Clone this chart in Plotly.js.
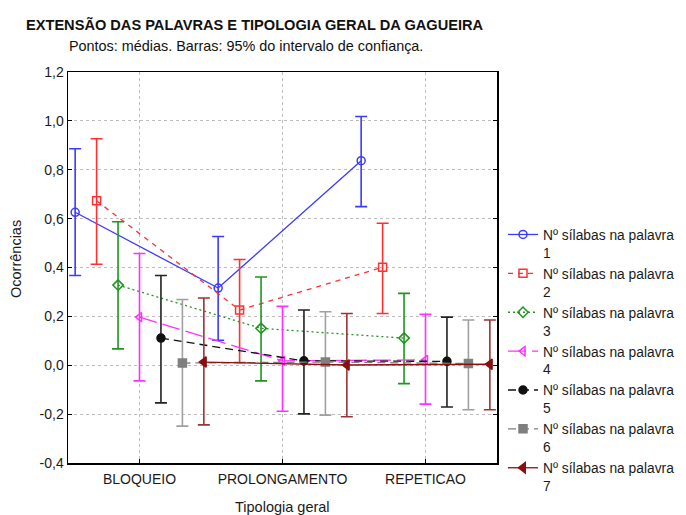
<!DOCTYPE html>
<html><head><meta charset="utf-8">
<script src="https://cdn.plot.ly/plotly-3.0.1.min.js"></script>
<style>html,body{margin:0;padding:0;background:#fff}#chart{width:686px;height:515px}</style>
</head><body><div id="chart"></div>
<script>
// ---- data ----
var categories = ['BLOQUEIO', 'PROLONGAMENTO', 'REPETICAO'];
var seriesNames = ['Nº sílabas na palavra<br>1','Nº sílabas na palavra<br>2','Nº sílabas na palavra<br>3',
  'Nº sílabas na palavra<br>4','Nº sílabas na palavra<br>5','Nº sílabas na palavra<br>6','Nº sílabas na palavra<br>7'];
var mean1 = [0.626, 0.316, 0.837], up1 = [0.886, 0.527, 1.018], lo1 = [0.367, 0.102, 0.649];
var mean2 = [0.673, 0.226, 0.401], up2 = [0.927, 0.433, 0.581], lo2 = [0.413, 0.011, 0.212];
var mean3 = [0.328, 0.151, 0.111], up3 = [0.587, 0.361, 0.294], lo3 = [0.067, -0.064, -0.075];
var mean4 = [0.197, 0.018, 0.022], up4 = [0.457, 0.241, 0.208], lo4 = [-0.064, -0.188, -0.159];
var mean5 = [0.111, 0.018, 0.016], up5 = [0.367, 0.226, 0.197], lo5 = [-0.154, -0.199, -0.171];
var mean6 = [0.009, 0.013, 0.007], up6 = [0.269, 0.219, 0.185], lo6 = [-0.249, -0.204, -0.182];
var mean7 = [0.013, 0.001, 0.004], up7 = [0.275, 0.212, 0.185], lo7 = [-0.244, -0.211, -0.182];
var yTickVals = [-0.4, -0.2, 0, 0.2, 0.4, 0.6, 0.8, 1.0, 1.2];
var yTickLabels = ['-0,4', '-0,2', '0,0', '0,2', '0,4', '0,6', '0,8', '1,0', '1,2'];

// ---- styles ----
var FONT = '"Liberation Sans", Arial, sans-serif';
var styles = [
  {color:'#3b3bff', ecolor:'#3b3bff', dash:'solid', symbol:'circle-open', size:8},
  {color:'#ff3030', ecolor:'#ff3030', dash:'5px,5px', symbol:'square-open', size:8},
  {color:'#1f951f', ecolor:'#1f951f', dash:'2px,3px', symbol:'diamond-open', size:8},
  {color:'#ff30ff', ecolor:'#ff30ff', dash:'18px,6px', symbol:'triangle-left-open', size:8},
  {color:'#111111', ecolor:'#222222', dash:'8px,5px', symbol:'circle', size:8},
  {color:'#7f7f7f', ecolor:'#a0a0a0', dash:'8px,5px', symbol:'square', size:8},
  {color:'#8b0f0f', ecolor:'#9b3535', dash:'solid', symbol:'triangle-left', size:9}
];
var means = [mean1, mean2, mean3, mean4, mean5, mean6, mean7];
var ups = [up1, up2, up3, up4, up5, up6, up7];
var los = [lo1, lo2, lo3, lo4, lo5, lo6, lo7];

var traces = [];
for (var s = 0; s < 7; s++) {
  var off = (s - 3) * 0.15;
  var xs = categories.map(function (c, i) { return i + off; });
  var m = means[s];
  var plus = m.map(function (v, i) { return ups[s][i] - v; });
  var minus = m.map(function (v, i) { return v - los[s][i]; });
  var st = styles[s];
  traces.push({
    type: 'scatter', mode: 'lines+markers', name: seriesNames[s],
    x: xs, y: m,
    line: {color: st.color, width: 1.3, dash: st.dash},
    marker: {symbol: st.symbol, size: st.size, color: st.color,
             line: {color: st.color, width: 1.5}},
    error_y: {type: 'data', symmetric: false, array: plus, arrayminus: minus,
              color: st.ecolor, thickness: 1.6, width: 6},
    hoverinfo: 'x+y'
  });
}

var L = 68, R = 497, T = 72, B = 463, W = 686, H = 515;
function px2x(p) { return (p - L) / (R - L); }
function px2y(p) { return 1 - (p - T) / (B - T); }

var layout = {
  width: W, height: H,
  margin: {l: L, r: W - R, t: T, b: H - B, pad: 0, autoexpand: false},
  paper_bgcolor: '#ffffff', plot_bgcolor: '#ffffff',
  font: {family: FONT, size: 14, color: '#1a1a1a'},
  showlegend: true,
  legend: {x: px2x(503), y: px2y(219), xanchor: 'left', yanchor: 'top', valign: 'top',
           font: {family: FONT, size: 13.8, color: '#1a1a1a'}, bgcolor: 'rgba(0,0,0,0)',
           borderwidth: 0, tracegroupgap: 0, itemwidth: 30},
  xaxis: {
    range: [-0.5, 2.5], tickvals: [0, 1, 2], ticktext: categories,
    showline: true, linecolor: '#000', linewidth: 1.5, mirror: true,
    ticks: 'inside', ticklen: 4, tickcolor: '#000', tickwidth: 1, ticklabelstandoff: 3,
    showgrid: true, gridcolor: '#bdbdbd', griddash: 'dot', gridwidth: 1,
    zeroline: false, tickfont: {family: FONT, size: 14, color: '#1a1a1a'}
  },
  yaxis: {
    range: [-0.4, 1.2], tickvals: yTickVals, ticktext: yTickLabels,
    showline: true, linecolor: '#000', linewidth: 1.5, mirror: 'ticks',
    ticks: 'inside', ticklen: 4, tickcolor: '#000', tickwidth: 1,
    showgrid: true, gridcolor: '#bdbdbd', griddash: 'dot', gridwidth: 1,
    zeroline: false, tickfont: {family: FONT, size: 14, color: '#1a1a1a'}
  },
  annotations: [
    {text: '<b>EXTENSÃO DAS PALAVRAS E TIPOLOGIA GERAL DA GAGUEIRA</b>', xref: 'paper', yref: 'paper',
     x: px2x(254), y: px2y(24), xanchor: 'center', yanchor: 'middle', showarrow: false,
     font: {family: FONT, size: 14.6, color: '#111'}},
    {text: 'Pontos: médias. Barras: 95% do intervalo de confiança.', xref: 'paper', yref: 'paper',
     x: px2x(246), y: px2y(46), xanchor: 'center', yanchor: 'middle', showarrow: false,
     font: {family: FONT, size: 14.4, color: '#111'}},
    {text: 'Tipologia geral', xref: 'paper', yref: 'paper',
     x: px2x(282), y: px2y(507), xanchor: 'center', yanchor: 'middle', showarrow: false,
     font: {family: FONT, size: 14.5, color: '#1a1a1a'}},
    {text: 'Ocorrências', xref: 'paper', yref: 'paper', textangle: -90,
     x: px2x(16), y: px2y(259), xanchor: 'center', yanchor: 'middle', showarrow: false,
     font: {family: FONT, size: 14.5, color: '#1a1a1a'}}
  ]
};

Plotly.newPlot('chart', traces, layout, {displayModeBar: false, staticPlot: true});
</script></body></html>
